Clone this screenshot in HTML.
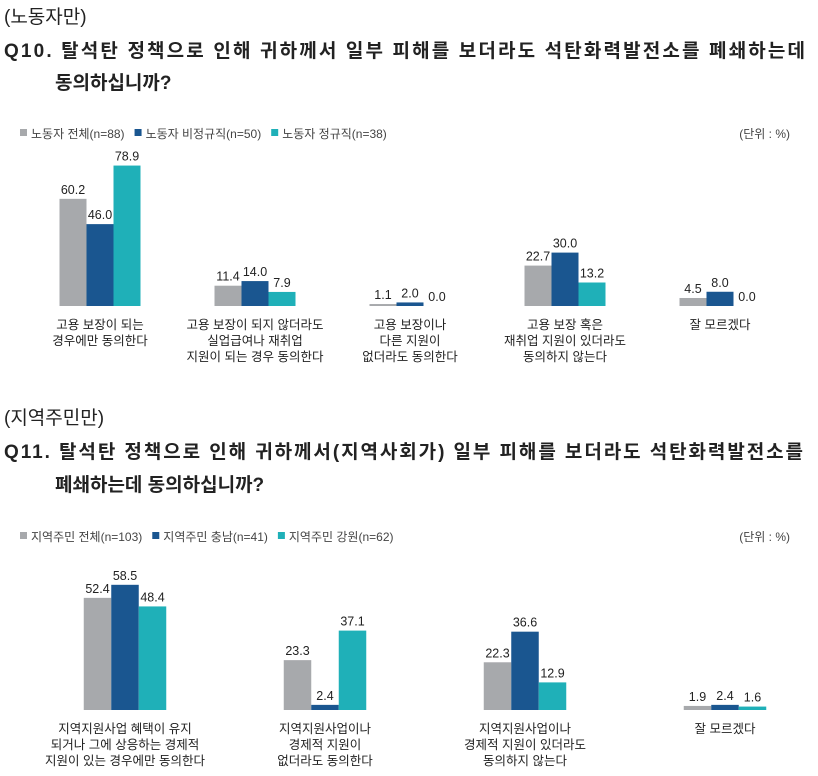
<!DOCTYPE html>
<html><head><meta charset="utf-8">
<style>
body{margin:0;background:#fff;width:818px;height:776px;overflow:hidden;font-family:"Liberation Sans","Noto Sans CJK KR",sans-serif;}
svg{display:block}
</style></head>
<body>
<svg id="chart" width="818" height="776" xmlns="http://www.w3.org/2000/svg" font-family="Liberation Sans, Noto Sans CJK KR, sans-serif">
<text x="4" y="23" font-size="19" fill="#222">(노동자만)</text>
<text x="4" y="57" font-size="19" font-weight="bold" fill="#222" textLength="801" lengthAdjust="spacing">Q10. 탈석탄 정책으로 인해 귀하께서 일부 피해를 보더라도 석탄화력발전소를 폐쇄하는데</text>
<text x="55" y="89" font-size="19" font-weight="bold" fill="#222">동의하십니까?</text>
<text x="790" y="138" font-size="12" fill="#444" text-anchor="end">(단위 : %)</text>
<text x="4" y="424" font-size="19" fill="#222">(지역주민만)</text>
<text x="4" y="458" font-size="19" font-weight="bold" fill="#222" textLength="799" lengthAdjust="spacing">Q11. 탈석탄 정책으로 인해 귀하께서(지역사회가) 일부 피해를 보더라도 석탄화력발전소를</text>
<text x="55" y="491" font-size="19" font-weight="bold" fill="#222">폐쇄하는데 동의하십니까?</text>
<text x="790" y="541" font-size="12" fill="#444" text-anchor="end">(단위 : %)</text>
</svg>
<script>
const colors=["#a7a9ac","#1a5690","#1fb0b8"];
const topCategories=[["고용 보장이 되는","경우에만 동의한다"],["고용 보장이 되지 않더라도","실업급여나 재취업","지원이 되는 경우 동의한다"],["고용 보장이나","다른 지원이","없더라도 동의한다"],["고용 보장 혹은","재취업 지원이 있더라도","동의하지 않는다"],["잘 모르겠다"]];
const topSeriesNames=["노동자 전체(n=88)","노동자 비정규직(n=50)","노동자 정규직(n=38)"];
const topAll=[60.2,11.4,1.1,22.7,4.5];
const topIrregular=[46.0,14.0,2.0,30.0,8.0];
const topRegular=[78.9,7.9,0.0,13.2,0.0];
const botCategories=[["지역지원사업 혜택이 유지","되거나 그에 상응하는 경제적","지원이 있는 경우에만 동의한다"],["지역지원사업이나","경제적 지원이","없더라도 동의한다"],["지역지원사업이나","경제적 지원이 있더라도","동의하지 않는다"],["잘 모르겠다"]];
const botSeriesNames=["지역주민 전체(n=103)","지역주민 충남(n=41)","지역주민 강원(n=62)"];
const botAll=[52.4,23.3,22.3,1.9];
const botChungnam=[58.5,2.4,36.6,2.4];
const botGangwon=[48.4,37.1,12.9,1.6];

const svg=document.getElementById('chart');
const NS="http://www.w3.org/2000/svg";
function mk(tag,attrs){const e=document.createElementNS(NS,tag);for(const k in attrs)e.setAttribute(k,attrs[k]);svg.appendChild(e);return e;}

function drawChart(cfg){
  const yScale=v=>cfg.base-v*cfg.ppu;
  const xCenter=i=>cfg.x0+i*cfg.step;
  let lx=cfg.legX;
  cfg.names.forEach((n,s)=>{
    const r=mk('rect',{x:lx,y:cfg.legY-9,width:7,height:7,fill:colors[s]});
    
    
    const t=mk('text',{x:lx+11,y:cfg.legY,'font-size':12,fill:'#444'});
    t.textContent=n;
    
    
    lx+=11+t.getComputedTextLength()+10;
  });
  cfg.cats.forEach((lines,i)=>{
    const cx=xCenter(i);
    cfg.series.forEach((arr,s)=>{
      const v=arr[i];
      const x=cx-1.5*cfg.bw+s*cfg.bw;
      const y=yScale(v);
      const r=mk('rect',{x:x,y:y,width:cfg.bw,height:Math.max(cfg.base-y,0),fill:colors[s]});
      
      
      const t=mk('text',{x:x+cfg.bw/2,y:y-5,'font-size':12.5,fill:'#222','text-anchor':'middle'});
      t.textContent=v.toFixed(1);
      
      
    });
    lines.forEach((ln,k)=>{
      const t=mk('text',{x:cx,y:cfg.base+23+k*16,'font-size':12.5,fill:'#222','text-anchor':'middle'});
      t.textContent=ln;
      
      
    });
  });
}
drawChart({id:'q10',cats:topCategories,names:topSeriesNames,series:[topAll,topIrregular,topRegular],base:306,ppu:1.78,x0:100,step:155,bw:27,legX:20,legY:138});
drawChart({id:'q11',cats:botCategories,names:botSeriesNames,series:[botAll,botChungnam,botGangwon],base:710,ppu:2.14,x0:125,step:200,bw:27.5,legX:20,legY:541});
</script>
</body></html>
